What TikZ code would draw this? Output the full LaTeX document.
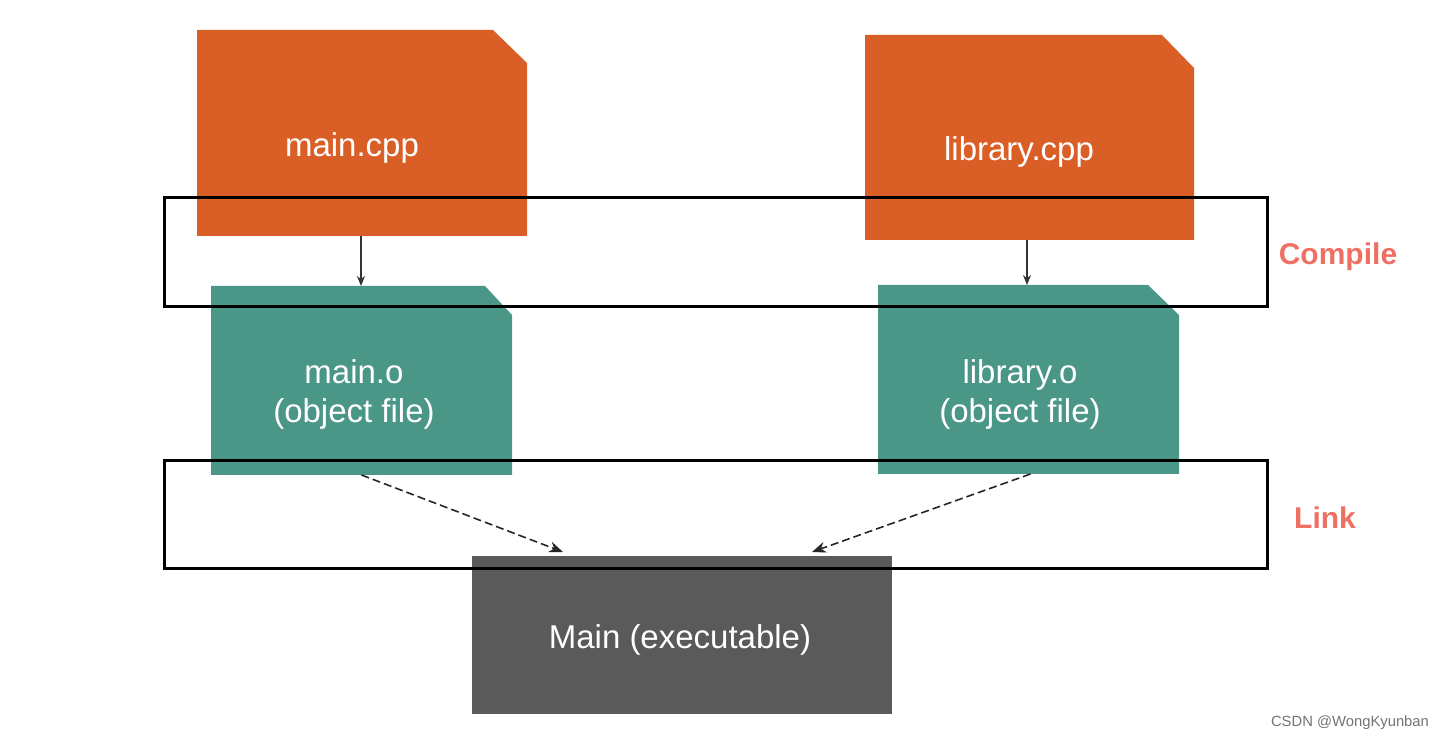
\documentclass[tikz,border=0pt]{standalone}
\usepackage{fontspec}
\setmainfont{Liberation Sans}
\usetikzlibrary{calc,arrows.meta}
\definecolor{cpporange}{HTML}{DA5F27}
\definecolor{objteal}{HTML}{4A9788}
\definecolor{exegrey}{HTML}{5A5A5A}
\definecolor{labelred}{HTML}{EE7063}
\tikzset{
  boxarea/.style={inner sep=0pt, outer sep=0pt},
  boxtext/.style={text=white, font=\fontsize{16.5}{19.5}\selectfont, align=center},
  stagebox/.style={draw=black, line width=1.5pt, inner sep=0pt},
  stagelabel/.style={text=labelred, font=\bfseries\fontsize{15}{18}\selectfont},
  solidarrow/.style={-{Stealth[length=5pt,width=4pt]}, line width=0.6pt, draw=black!80},
  dasharrow/.style={-{Stealth[length=7pt,width=5.5pt]}, line width=0.8pt, draw=black!85, dash pattern=on 4pt off 2pt}
}
\begin{document}
\begin{tikzpicture}[x=0.5pt,y=-0.5pt]
\useasboundingbox (0,0) rectangle (1448,742);
% boxes
\node[boxarea, minimum width=165pt, minimum height=103pt] (mcpp) at (362,133) {};
\node[boxarea, minimum width=164.5pt, minimum height=102.5pt] (lcpp) at (1029.5,137.5) {};
\node[boxarea, minimum width=150.5pt, minimum height=94.5pt] (mo) at (361.5,380.5) {};
\node[boxarea, minimum width=150.5pt, minimum height=94.5pt] (lo) at (1028.5,379.5) {};
\node[boxarea, minimum width=210pt, minimum height=79pt, fill=exegrey] (exe) at (682,635) {};
\fill[cpporange] (mcpp.south west) -- (mcpp.north west) -- ($(mcpp.north east)+(-34,0)$) -- ($(mcpp.north east)+(0,33)$) -- (mcpp.south east) -- cycle;
\fill[cpporange] (lcpp.south west) -- (lcpp.north west) -- ($(lcpp.north east)+(-32,0)$) -- ($(lcpp.north east)+(0,33)$) -- (lcpp.south east) -- cycle;
\fill[objteal] (mo.south west) -- (mo.north west) -- ($(mo.north east)+(-27,0)$) -- ($(mo.north east)+(0,29)$) -- (mo.south east) -- cycle;
\fill[objteal] (lo.south west) -- (lo.north west) -- ($(lo.north east)+(-31,0)$) -- ($(lo.north east)+(0,30)$) -- (lo.south east) -- cycle;
% texts
\node[boxtext] (tmcpp) at (352,148) {main.cpp};
\node[boxtext] (tlcpp) at (1019,152) {library.cpp};
\node[boxtext] (tmo) at (354,394) {main.o\\(object file)};
\node[boxtext] (tlo) at (1020,394) {library.o\\(object file)};
\node[boxtext] (texe) at (680,640) {Main (executable)};
% connectors
\draw[solidarrow] ($(mcpp.south)+(-1,0)$) -- ($(mo.north)+(-0.5,0)$);
\draw[solidarrow] ($(lcpp.south)+(-2.5,0)$) -- ($(lo.north)+(-1.5,0)$);
\draw[dasharrow] (mo.south) -- ($(exe.north west)+(91,-4)$);
\draw[dasharrow] ($(lo.south)+(2,0)$) -- ($(exe.north east)+(-80,-4)$);
% stage frames
\node[stagebox, minimum width=551.5pt, minimum height=54.5pt] (compilebox) at (715.5,252.5) {};
\node[stagebox, minimum width=551.5pt, minimum height=54pt] (linkbox) at (715.5,515) {};
\node[stagelabel] (compilelbl) at (1338,257) {Compile};
\node[stagelabel] (linklbl) at (1325,518) {Link};
% watermark
\node[text=black!55, font=\fontsize{7.4}{9}\selectfont] (wm) at (1350,723) {CSDN @WongKyunban};
\end{tikzpicture}
\end{document}
